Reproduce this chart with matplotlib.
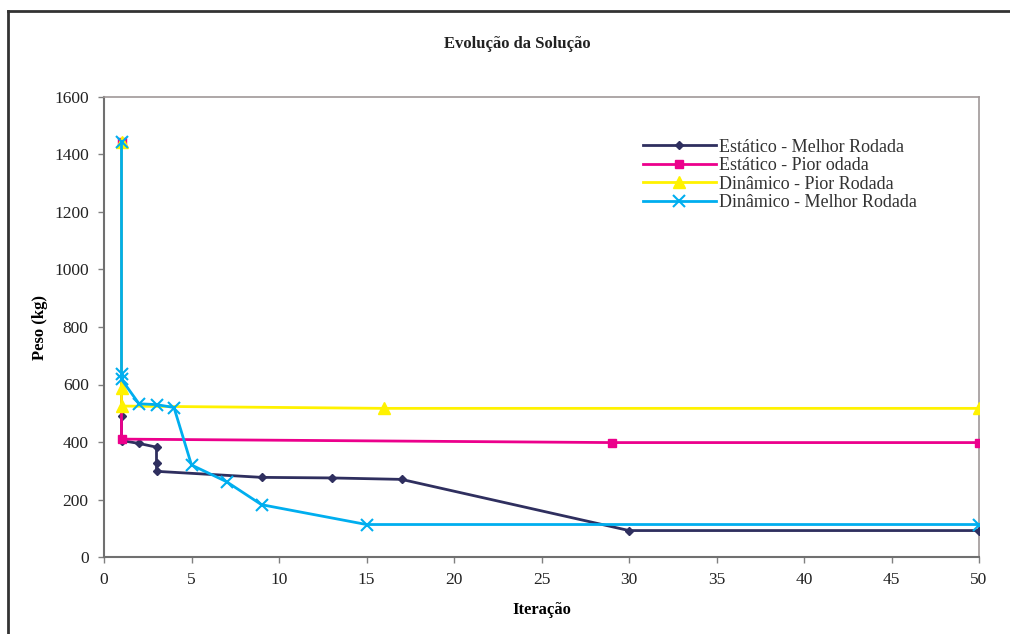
import matplotlib
matplotlib.use("Agg")
import matplotlib.pyplot as plt
from matplotlib.lines import Line2D

# ---- data ----
est_melhor_x = [1, 1, 1, 2, 3, 3, 3, 9, 13, 17, 30, 50]
est_melhor_y = [1445, 490, 405, 395, 382, 328, 298, 277, 275, 270, 92, 92]

est_pior_x = [1, 1, 29, 50]
est_pior_y = [1445, 410, 398, 398]

din_pior_x = [1, 1, 1, 16, 50]
din_pior_y = [1445, 588, 525, 517, 517]

din_melhor_x = [1, 1, 1, 2, 3, 4, 5, 7, 9, 15, 50]
din_melhor_y = [1445, 635, 618, 533, 530, 520, 320, 262, 182, 113, 113]

labels = ["Estático - Melhor Rodada", "Estático - Pior odada",
          "Dinâmico - Pior Rodada", "Dinâmico - Melhor Rodada"]
x_ticks = list(range(0, 51, 5))
y_ticks = list(range(0, 1601, 200))

plt.rcParams['font.family'] = ['Liberation Serif', 'DejaVu Serif']

fig = plt.figure(figsize=(10.10, 6.34), dpi=100)
ax = fig.add_axes([104/1010, 77/634, 875/1010, 460/634])

c_dark = '#2F2F5F'
c_pink = '#EC008C'
c_yel = '#FFF200'
c_cyan = '#00AEEF'

ax.plot(est_melhor_x, est_melhor_y, color=c_dark, lw=2.0, marker='D', ms=4,
        label=labels[0], zorder=3)
ax.plot(est_pior_x, est_pior_y, color=c_pink, lw=2.0, marker='s', ms=6,
        label=labels[1], zorder=4)
ax.plot(din_pior_x, din_pior_y, color=c_yel, lw=2.0, marker='^', ms=9,
        label=labels[2], zorder=5)
ax.plot(din_melhor_x, din_melhor_y, color=c_cyan, lw=2.0, marker='x', ms=9,
        mew=1.5, label=labels[3], zorder=6)

ax.set_xlim(0, 50)
ax.set_ylim(0, 1600)
ax.set_xticks(x_ticks)
ax.set_yticks(y_ticks)
ax.tick_params(axis='both', direction='out', length=4, width=1, color='#808080',
               labelsize=12.5, labelcolor='#222222', pad=7)
for s in ['left', 'bottom']:
    ax.spines[s].set_color('#707070')
    ax.spines[s].set_linewidth(1.5)
for s in ['top', 'right']:
    ax.spines[s].set_color('#A09898')
    ax.spines[s].set_linewidth(1.2)

ax.set_xlabel('Iteração', fontsize=12, fontweight='bold', labelpad=10)
ax.set_ylabel('Peso (kg)', fontsize=12, fontweight='bold', labelpad=4)
fig.text(517/1010, 1 - 44/634, 'Evolução da Solução', ha='center', va='center',
         fontsize=12, fontweight='bold', color='#222222')

leg = ax.legend(loc='upper left', bbox_to_anchor=(0.606, 0.929), frameon=False,
                fontsize=13, handlelength=4.0, handletextpad=0.2,
                labelspacing=0.08, borderpad=0)
for t in leg.get_texts():
    t.set_color('#333333')

# outer frame
fig.add_artist(Line2D([8/1010, 1.0], [1 - 10.5/634, 1 - 10.5/634],
                      transform=fig.transFigure, color='#333333', lw=2))
fig.add_artist(Line2D([8/1010, 8/1010], [0, 1 - 10.5/634],
                      transform=fig.transFigure, color='#333333', lw=2))

fig.savefig('out.png', dpi=100)
